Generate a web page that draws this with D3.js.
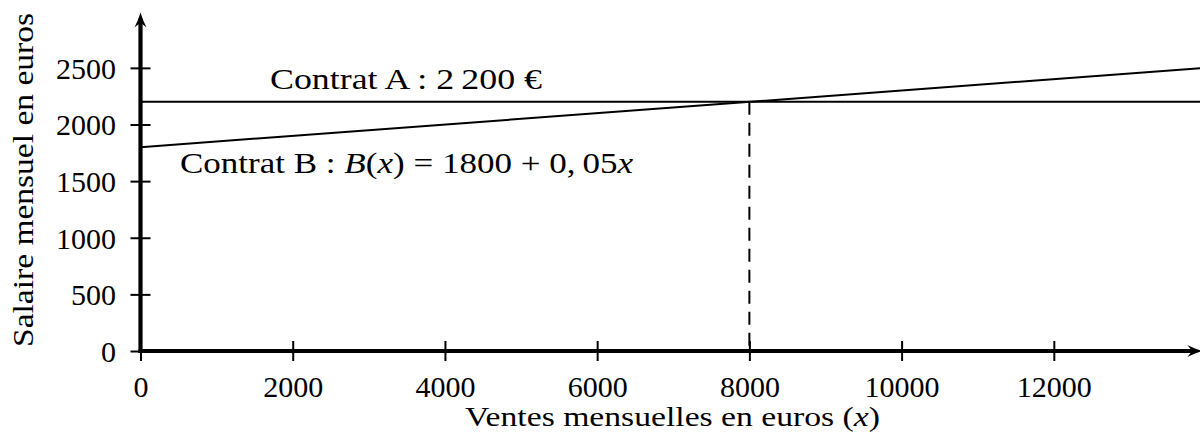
<!DOCTYPE html>
<html>
<head>
<meta charset="utf-8">
<script src="https://cdn.jsdelivr.net/npm/d3@7/dist/d3.min.js"></script>
<style>
  html, body { margin: 0; padding: 0; background: #fff; }
  svg { display: block; }
  text { font-family: "Liberation Serif", "DejaVu Serif", serif; fill: #000; }
</style>
</head>
<body>
<svg id="chart" width="1200" height="436"></svg>
<script>
// Monthly sales (x, euros) and the two salary contracts
const xTicks = [0, 2000, 4000, 6000, 8000, 10000, 12000];
const yTicks = [0, 500, 1000, 1500, 2000, 2500];
const xAxisMax = 13950;
const yAxisMax = 2990;

const contractA = 2200;          // fixed salary
const contractBBase = 1800;      // B(x) = 1800 + 0,05x
const contractBRate = 0.05;
const breakEvenSales = 8000;     // where both contracts pay the same

const salesRange = [0, xAxisMax];

const svg = d3.select("#chart");

const x = d3.scaleLinear().domain([0, 14000]).range([140.5, 140.5 + 14000 * 0.07611]);
const y = d3.scaleLinear().domain([0, 3000]).range([351, 351 - 3000 * 0.11325]);

// ---- axes (ticks cross the axis lines)
const gx = svg.append("g")
  .attr("transform", `translate(0,${y(0)})`)
  .call(d3.axisBottom(x).tickValues(xTicks).tickSize(10).tickPadding(0).tickFormat(d3.format("d")));
gx.select(".domain").remove();
gx.selectAll(".tick line").attr("y1", -10).attr("y2", 10).attr("stroke", "#000").attr("stroke-width", 2);
gx.selectAll(".tick text")
  .attr("y", 45.5).attr("dy", null)
  .style("font-size", "30px").style("font-family", "'Liberation Serif', serif");

const gy = svg.append("g")
  .attr("transform", `translate(${x(0)},0)`)
  .call(d3.axisLeft(y).tickValues(yTicks).tickSize(10).tickPadding(0).tickFormat(d3.format("d")));
gy.select(".domain").remove();
gy.selectAll(".tick line").attr("x1", -10).attr("x2", 10).attr("stroke", "#000").attr("stroke-width", 2);
gy.selectAll(".tick text")
  .attr("x", -24.5).attr("dy", null).attr("y", 10.3)
  .style("font-size", "30px").style("font-family", "'Liberation Serif', serif");

// ---- thick axis lines with arrow heads
svg.append("line")
  .attr("x1", x(0) - 2).attr("x2", x(xAxisMax) - 6)
  .attr("y1", y(0)).attr("y2", y(0))
  .attr("stroke", "#000").attr("stroke-width", 4.2);
svg.append("line")
  .attr("x1", x(0)).attr("x2", x(0))
  .attr("y1", y(0) + 2).attr("y2", y(yAxisMax) + 6)
  .attr("stroke", "#000").attr("stroke-width", 4.2);

function arrowHead(tx, ty, angle) {
  // tip at origin, pointing along +x before rotation
  const p = d3.path();
  p.moveTo(0, 0);
  p.quadraticCurveTo(-7, -2, -15, -6);
  p.quadraticCurveTo(-11, -1.5, -10.5, 0);
  p.quadraticCurveTo(-11, 1.5, -15, 6);
  p.quadraticCurveTo(-7, 2, 0, 0);
  p.closePath();
  svg.append("path")
    .attr("d", p.toString())
    .attr("transform", `translate(${tx},${ty}) rotate(${angle})`)
    .attr("fill", "#000");
}
arrowHead(x(xAxisMax), y(0), 0);
arrowHead(x(0), y(yAxisMax), -90);

// ---- contract lines
const line = d3.line().x(d => x(d[0])).y(d => y(d[1]));

svg.append("path")
  .datum(salesRange.map(s => [s, contractA]))
  .attr("d", line)
  .attr("fill", "none").attr("stroke", "#000").attr("stroke-width", 2);

svg.append("path")
  .datum(salesRange.map(s => [s, contractBBase + contractBRate * s]))
  .attr("d", line)
  .attr("fill", "none").attr("stroke", "#000").attr("stroke-width", 2);

// break-even marker
svg.append("line")
  .attr("x1", x(breakEvenSales)).attr("x2", x(breakEvenSales))
  .attr("y1", y(contractA)).attr("y2", y(0))
  .attr("stroke", "#000").attr("stroke-width", 2)
  .attr("stroke-dasharray", "13 8");

// ---- labels
svg.append("text")
  .attr("x", 270).attr("y", 89)
  .attr("textLength", 272).attr("lengthAdjust", "spacingAndGlyphs")
  .style("font-size", "30px")
  .text("Contrat A : 2\u2009200 \u20AC");

const tb = svg.append("text")
  .attr("x", 180).attr("y", 173)
  .attr("textLength", 453).attr("lengthAdjust", "spacingAndGlyphs")
  .style("font-size", "30px");
tb.append("tspan").text("Contrat B : ");
tb.append("tspan").style("font-style", "italic").text("B");
tb.append("tspan").text("(");
tb.append("tspan").style("font-style", "italic").text("x");
tb.append("tspan").text(") = 1800 + 0,\u200905");
tb.append("tspan").style("font-style", "italic").text("x");

const xl = svg.append("text")
  .attr("x", 465).attr("y", 426)
  .attr("textLength", 415).attr("lengthAdjust", "spacingAndGlyphs")
  .style("font-size", "27px");
xl.append("tspan").text("Ventes mensuelles en euros (");
xl.append("tspan").style("font-style", "italic").text("x");
xl.append("tspan").text(")");

svg.append("text")
  .attr("transform", "translate(33,347) rotate(-90)")
  .attr("x", 0).attr("y", 0)
  .attr("textLength", 334).attr("lengthAdjust", "spacingAndGlyphs")
  .style("font-size", "30px")
  .text("Salaire mensuel en euros");
</script>
</body>
</html>
